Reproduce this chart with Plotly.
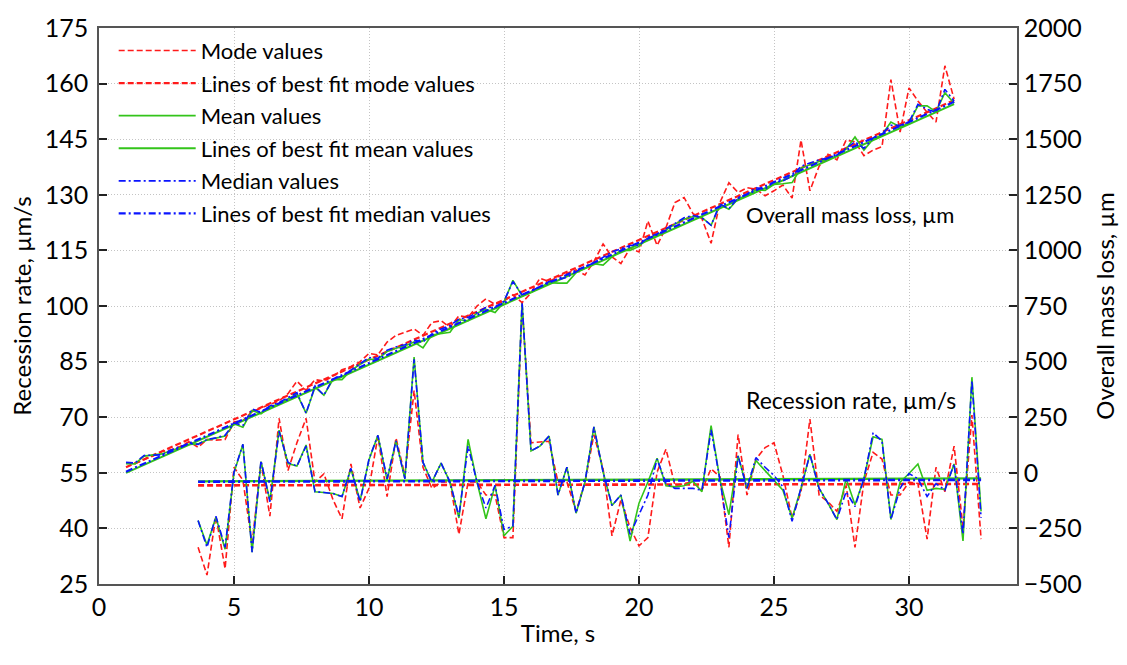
import plotly.graph_objects as go

# ---------------- data ----------------
t_mass = [1.0, 1.33, 1.67, 2.0, 2.33, 2.67, 3.0, 3.33, 3.67, 4.0, 4.33, 4.67,
          5.0, 5.33, 5.67, 6.0, 6.33, 6.67, 7.0, 7.33, 7.67, 8.0, 8.33, 8.67,
          9.0, 9.33, 9.67, 10.0, 10.33, 10.67, 11.0, 11.33, 11.67, 12.0, 12.33, 12.67,
          13.0, 13.33, 13.67, 14.0, 14.33, 14.67, 15.0, 15.33, 15.67, 16.0, 16.33, 16.67,
          17.0, 17.33, 17.67, 18.0, 18.33, 18.67, 19.0, 19.33, 19.67, 20.0, 20.33, 20.67,
          21.0, 21.33, 21.67, 22.0, 22.33, 22.67, 23.0, 23.33, 23.67, 24.0, 24.33, 24.67,
          25.0, 25.33, 25.67, 26.0, 26.33, 26.67, 27.0, 27.33, 27.67, 28.0, 28.33, 28.67,
          29.0, 29.33, 29.67, 30.0, 30.33, 30.67, 31.0, 31.33, 31.67]

mass_median = [47, 44, 78, 78, 81, 103, 118, 132, 128, 150, 157, 169,
               224, 213, 287, 272, 301, 316, 338, 360, 268, 390, 349, 426,
               434, 463, 493, 518, 515, 551, 566, 576, 596, 588, 625, 647,
               662, 691, 699, 721, 743, 743, 772, 860, 801, 816, 838, 860,
               868, 879, 904, 926, 944, 968, 993, 1007, 1022, 1022, 1059, 1074,
               1096, 1121, 1147, 1157, 1147, 1113, 1209, 1187, 1238, 1253, 1282, 1275,
               1309, 1312, 1334, 1378, 1393, 1407, 1415, 1429, 1459, 1488, 1459, 1506,
               1525, 1562, 1562, 1577, 1657, 1635, 1621, 1724, 1672]

mass_mean = [41, 40, 75, 80, 85, 100, 112, 128, 130, 147, 155, 165,
             220, 205, 280, 265, 295, 310, 332, 355, 268, 385, 349, 420,
             419, 460, 488, 510, 512, 545, 560, 570, 588, 562, 620, 625,
             632, 688, 684, 718, 735, 721, 768, 865, 795, 812, 832, 855,
             853, 853, 900, 920, 940, 934, 971, 1000, 1000, 1018, 1055, 1068,
             1091, 1118, 1140, 1152, 1148, 1113, 1205, 1185, 1232, 1248, 1271, 1270,
             1297, 1300, 1305, 1370, 1385, 1400, 1410, 1425, 1455, 1510, 1451, 1500,
             1520, 1577, 1555, 1572, 1650, 1650, 1623, 1709, 1662]

mass_mode = [45, 40, 59, 75, 96, 103, 118, 140, 115, 150, 147, 150,
             228, 235, 275, 290, 305, 324, 356, 412, 371, 419, 412, 434,
             463, 478, 500, 537, 530, 588, 618, 632, 647, 618, 676, 684,
             654, 706, 699, 750, 782, 757, 772, 800, 765, 809, 875, 860,
             882, 897, 912, 890, 949, 1029, 971, 941, 1010, 993, 1132, 1022,
             1103, 1215, 1238, 1165, 1143, 1032, 1216, 1304, 1260, 1282, 1275, 1246,
             1268, 1294, 1235, 1496, 1268, 1378, 1432, 1407, 1496, 1488, 1426, 1451,
             1466, 1768, 1532, 1731, 1672, 1621, 1577, 1830, 1680]

t_rate = [3.67, 4.0, 4.33, 4.67, 5.0, 5.33, 5.67, 6.0, 6.33, 6.67, 7.0, 7.33,
          7.67, 8.0, 8.33, 8.67, 9.0, 9.33, 9.67, 10.0, 10.33, 10.67, 11.0, 11.33,
          11.67, 12.0, 12.33, 12.67, 13.0, 13.33, 13.67, 14.0, 14.33, 14.67, 15.0, 15.33,
          15.67, 16.0, 16.33, 16.67, 17.0, 17.33, 17.67, 18.0, 18.33, 18.67, 19.0, 19.33,
          19.67, 20.0, 20.33, 20.67, 21.0, 21.33, 21.67, 22.0, 22.33, 22.67, 23.0, 23.33,
          23.67, 24.0, 24.33, 24.67, 25.0, 25.33, 25.67, 26.0, 26.33, 26.67, 27.0, 27.33,
          27.67, 28.0, 28.33, 28.67, 29.0, 29.33, 29.67, 30.0, 30.33, 30.67, 31.0, 31.33,
          31.67, 32.0, 32.33, 32.67]

rate_median = [42.1, 34.9, 43.3, 34.9, 55.2, 62.7, 33.6, 58.3, 47.2, 66.2, 57.8, 56.8,
               62.2, 49.9, 49.7, 49.4, 48.6, 56.2, 47.2, 58.7, 65.1, 53.4, 63.6, 53.4,
               85.6, 57.8, 52.5, 57.6, 52.5, 43.3, 62.2, 52.5, 45.5, 51.6, 39.7, 40.6,
               101.0, 60.9, 62.2, 64.9, 49.0, 56.5, 44.1, 52.5, 67.4, 55.2, 46.2, 49.0,
               38.4, 43.7, 49.0, 58.7, 52.1, 50.8, 50.8, 50.8, 50.3, 66.6, 53.0, 37.5,
               59.6, 50.8, 59.1, 56.5, 54.3, 51.2, 41.9, 50.8, 60.0, 50.8, 46.8, 42.4,
               49.9, 45.9, 53.4, 65.8, 63.6, 42.4, 50.8, 54.8, 53.4, 48.6, 52.1, 50.3,
               57.4, 38.4, 79.9, 42.8]

rate_mean = [42.1, 35.5, 43.0, 34.4, 55.0, 62.7, 33.6, 58.0, 47.5, 66.5, 57.5, 56.8,
             62.5, 49.9, 49.7, 49.4, 48.6, 56.0, 47.5, 58.5, 65.1, 53.0, 63.6, 53.4,
             86.2, 57.8, 52.5, 57.6, 52.5, 42.8, 64.0, 52.5, 42.6, 51.6, 38.0, 40.6,
             101.0, 60.9, 62.2, 64.9, 49.0, 56.5, 44.1, 52.5, 67.4, 55.2, 46.2, 49.0,
             36.6, 46.8, 52.5, 58.9, 51.5, 51.2, 51.5, 52.7, 49.9, 67.7, 53.0, 43.7,
             59.6, 50.8, 58.3, 55.6, 53.0, 50.3, 42.8, 50.8, 60.0, 50.8, 46.8, 42.4,
             53.4, 46.4, 53.4, 64.7, 64.0, 42.4, 52.5, 54.8, 57.4, 50.3, 50.8, 50.5,
             57.4, 36.6, 80.8, 44.6]

rate_mode = [34.9, 27.4, 43.3, 29.1, 56.5, 53.0, 35.8, 57.8, 43.3, 69.7, 55.6, 63.1,
             69.7, 52.5, 54.7, 47.7, 42.6, 57.4, 45.5, 50.8, 64.9, 48.6, 64.4, 54.3,
             77.2, 56.5, 50.8, 52.5, 52.5, 38.4, 52.5, 52.5, 49.0, 49.0, 37.5, 37.5,
             100.0, 63.1, 63.3, 63.5, 52.5, 52.5, 44.6, 52.5, 65.3, 56.1, 38.0, 47.7,
             40.2, 35.3, 37.5, 55.2, 61.4, 51.6, 52.1, 52.5, 50.3, 56.1, 53.9, 34.9,
             65.3, 49.0, 58.7, 61.8, 63.1, 54.3, 42.8, 49.9, 69.5, 49.0, 47.2, 44.6,
             51.6, 34.9, 52.5, 60.5, 58.7, 49.0, 49.0, 52.5, 52.1, 37.1, 56.5, 49.9,
             62.2, 40.2, 70.6, 37.1]

# best-fit line end points
t_mass_fit = [1.0, 31.67]
mass_fit_mode = [25, 1675]
mass_fit_mean = [0, 1658]
mass_fit_median = [5, 1668]

t_rate_fit = [3.67, 32.67]
rate_fit_mode = [51.6, 52.0]
rate_fit_mean = [52.7, 53.5]
rate_fit_median = [52.6, 53.1]

legend_names = ["Mode values", "Lines of best fit mode values",
                "Mean values", "Lines of best fit mean values",
                "Median values", "Lines of best fit median values"]

# ---------------- styles ----------------
RED = "#FF1A1A"
GREEN = "#33C41A"
BLUE = "#0A14FF"
DASH = "6px,3px"
DASHDOT = "7px,3px,2px,3px"
FONT = "Lato"

fig = go.Figure()

def add(x, y, axis, color, dash, width, name, show, group):
    fig.add_trace(go.Scatter(
        x=x, y=y, mode="lines", yaxis=axis,
        line=dict(color=color, dash=dash, width=width),
        name=name, showlegend=show, legendgroup=group,
        hoverinfo="x+y"))

# mode (red)
add(t_mass, mass_mode, "y2", RED, DASH, 1.6, legend_names[0], True, "g0")
add(t_rate, rate_mode, "y", RED, DASH, 1.6, legend_names[0], False, "g0")
add(t_mass_fit, mass_fit_mode, "y2", RED, DASH, 2.2, legend_names[1], True, "g1")
add(t_rate_fit, rate_fit_mode, "y", RED, DASH, 2.6, legend_names[1], False, "g1")
# mean (green)
add(t_mass, mass_mean, "y2", GREEN, "solid", 1.6, legend_names[2], True, "g2")
add(t_rate, rate_mean, "y", GREEN, "solid", 1.6, legend_names[2], False, "g2")
add(t_mass_fit, mass_fit_mean, "y2", GREEN, "solid", 2.0, legend_names[3], True, "g3")
add(t_rate_fit, rate_fit_mean, "y", GREEN, "solid", 2.4, legend_names[3], False, "g3")
# median (blue)
add(t_mass, mass_median, "y2", BLUE, DASHDOT, 1.6, legend_names[4], True, "g4")
add(t_rate, rate_median, "y", BLUE, DASHDOT, 1.6, legend_names[4], False, "g4")
add(t_mass_fit, mass_fit_median, "y2", BLUE, DASHDOT, 2.2, legend_names[5], True, "g5")
add(t_rate_fit, rate_fit_median, "y", BLUE, DASHDOT, 2.6, legend_names[5], False, "g5")

TICK_SIZE = 25
TITLE_SIZE = 24
TEXT_SIZE = 22

axis_common = dict(
    showline=True, linecolor="#555555", linewidth=1.5,
    ticks="inside", ticklen=8, tickwidth=1.5, tickcolor="#222222",
    tickfont=dict(family=FONT, size=TICK_SIZE, color="black"),
    zeroline=False, ticklabeloverflow="allow",
)
grid = dict(showgrid=True, gridcolor="#C4C4C4", griddash="1px,2px", gridwidth=1)

fig.update_layout(
    width=1127, height=665,
    margin=dict(l=99, r=109, t=16, b=81),
    paper_bgcolor="white", plot_bgcolor="white",
    font=dict(family=FONT, size=TEXT_SIZE, color="black"),
    showlegend=True,
    legend=dict(
        x=0.016, y=0.997, xanchor="left", yanchor="top",
        bgcolor="rgba(0,0,0,0)", borderwidth=0,
        font=dict(family=FONT, size=TEXT_SIZE, color="black"),
        itemwidth=77, tracegroupgap=1, traceorder="grouped",
    ),
    xaxis=dict(
        range=[0, 34], tick0=0, dtick=5, mirror=True, **grid,
        title=dict(text="Time, s", font=dict(family=FONT, size=TITLE_SIZE), standoff=5),
        **axis_common,
    ),
    yaxis=dict(
        range=[25, 175], tick0=25, dtick=15, **grid, ticklabelstandoff=4,
        title=dict(text="Recession rate, µm/s", font=dict(family=FONT, size=TITLE_SIZE), standoff=6),
        **axis_common,
    ),
    yaxis2=dict(
        range=[-500, 2000], tick0=-500, dtick=250,
        overlaying="y", side="right", showgrid=False,
        title=dict(text="Overall mass loss, µm", font=dict(family=FONT, size=TITLE_SIZE), standoff=16),
        **axis_common,
    ),
    annotations=[
        dict(x=23.9, y=124.8, xref="x", yref="y", xanchor="left", yanchor="middle",
             text="Overall mass loss, µm", showarrow=False,
             font=dict(family=FONT, size=TEXT_SIZE, color="black")),
        dict(x=23.9, y=74.6, xref="x", yref="y", xanchor="left", yanchor="middle",
             text="Recession rate, µm/s", showarrow=False,
             font=dict(family=FONT, size=TEXT_SIZE + 1, color="black")),
    ],
)

fig.write_html("out.html")
